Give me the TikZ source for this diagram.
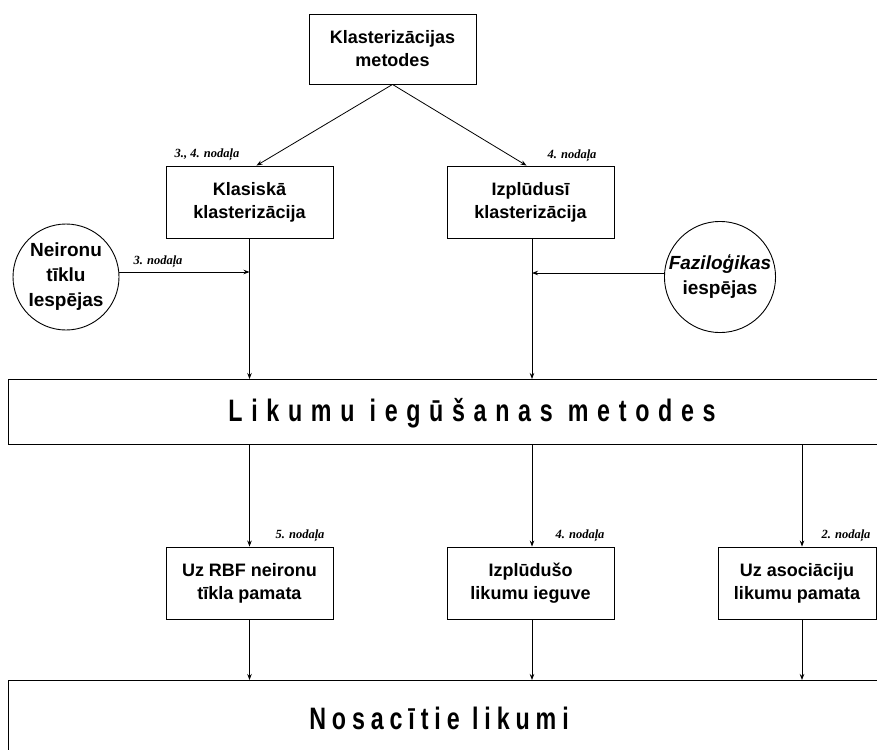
\documentclass[tikz,border=0pt]{standalone}
\usepackage{fontspec}
\setmainfont{Liberation Sans}
\newfontfamily\labfont{Liberation Serif}
\newfontfamily\biglimfont[LetterSpace=28,FakeStretch=0.75]{Liberation Sans}
\newfontfamily\bignosfont[LetterSpace=19,FakeStretch=0.75]{Liberation Sans}
\usetikzlibrary{arrows.meta,calc}
\begin{document}
\begin{tikzpicture}[x=1pt,y=-1pt,
  box/.style={draw,line width=0.9pt,minimum width=167pt,minimum height=72pt,align=center,
    font=\fontsize{18}{23}\selectfont\bfseries,inner sep=0pt},
  circ/.style={draw,circle,line width=0.9pt,minimum size=106pt,align=center,inner sep=0pt,
    font=\fontsize{19}{25}\selectfont\bfseries},
  widebox/.style={draw,line width=0.9pt,minimum width=900pt,anchor=north west,inner sep=0pt},
  lab/.style={font=\labfont\fontsize{12.5}{14}\selectfont\bfseries\itshape,inner sep=0pt},
  arr/.style={-{Stealth[length=6pt,width=4.5pt]},line width=0.8pt},
  ln/.style={line width=0.8pt}]
\useasboundingbox (0,0) rectangle (877,749);
\clip (0,0) rectangle (877,749);
\fill[white] (0,0) rectangle (877,749);

% top
\node[box,minimum height=70pt] (top) at (392.5,49) {Klasterizācijas\\metodes};
\node[box] (klas) at (249.5,202) {Klasiskā\\klasterizācija};
\node[box] (izpl) at (530.5,202) {Izplūdusī\\klasterizācija};

\node[circ] (neir) at (66,277) {Neironu\\tīklu\\Iespējas};
\node[circ] (fazi) at (720,277) {\textit{Faziloģikas}\\iespējas};

% wide boxes
\node[widebox,minimum height=65pt] (lim) at (8,379) {};
\node[font=\biglimfont\fontsize{31}{34}\selectfont\bfseries,inner sep=0pt] (limt) at (472,413) {Likumu iegūšanas metodes};

\node[box] (rbf) at (249.5,583) {Uz RBF neironu\\tīkla pamata};
\node[box] (izl) at (530.5,583) {Izplūdušo\\likumu ieguve};
\node[box,minimum width=158pt] (asoc) at (797,583) {Uz asociāciju\\likumu pamata};

\node[widebox,minimum height=120pt] (nos) at (8,680) {};
\node[font=\bignosfont\fontsize{31}{34}\selectfont\bfseries,inner sep=0pt] (nost) at (439,718) {Nosacītie likumi};

% labels
\node[lab] (l1) at (207,155) {3., 4. nodaļa};
\node[lab] (l2) at (572,156) {4. nodaļa};
\node[lab] (l3) at (158,262) {3. nodaļa};
\node[lab] (l4) at (300,536) {5. nodaļa};
\node[lab] (l5) at (580,536) {4. nodaļa};
\node[lab] (l6) at (846,536) {2. nodaļa};

% junctions
\coordinate (j1) at (249.5,272);
\coordinate (j2) at (532,273);
\coordinate (xr) at (532,0);
\coordinate (xa) at (802,0);

% connectors
\draw[arr] (top.south) -- ([xshift=7pt]klas.north);
\draw[arr] (top.south) -- ([xshift=-4pt]izpl.north);
\draw[arr] (neir.east |- j1) -- (j1);
\draw[arr] (fazi.west |- j2) -- (j2);
\draw[arr] (klas.south) -- (klas.south |- lim.north);
\draw[arr] (xr |- izpl.south) -- (xr |- lim.north);

\draw[arr] (rbf.north |- lim.south) -- (rbf.north);
\draw[arr] (xr |- lim.south) -- (xr |- izl.north);
\draw[arr] (xa |- lim.south) -- (xa |- asoc.north);

\draw[arr] (rbf.south) -- (rbf.south |- nos.north);
\draw[arr] (xr |- izl.south) -- (xr |- nos.north);
\draw[arr] (xa |- asoc.south) -- (xa |- nos.north);
\end{tikzpicture}
\end{document}
